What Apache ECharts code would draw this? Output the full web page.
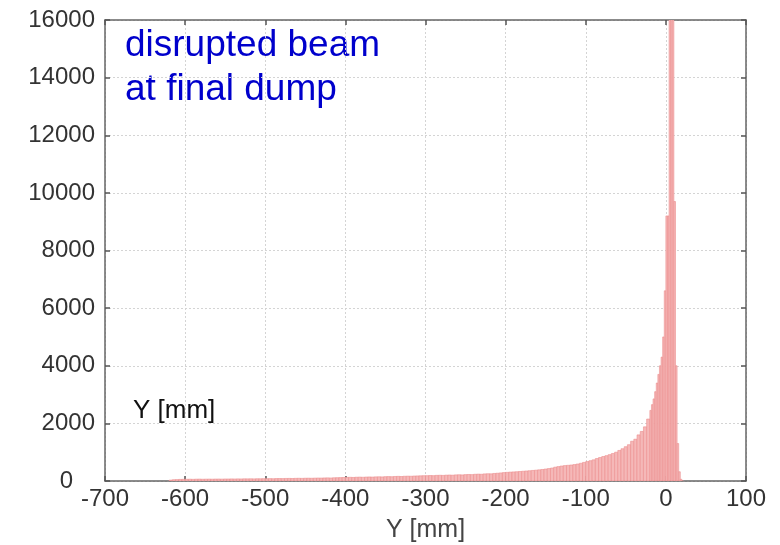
<!DOCTYPE html>
<html lang="en">
<head>
    <meta charset="UTF-8">
    <title>disrupted beam at final dump</title>
    <script src="https://cdn.jsdelivr.net/npm/echarts@6/dist/echarts.min.js"></script>
    <style>
        body { margin: 0; background: #fff; }
    </style>
</head>
<body>
    <div id="main" style="width: 780px;height:545px;"></div>
    <script type="text/javascript">
        // histogram of Y [mm], tail bins 4 mm wide, core bins 2 mm wide
        var tailStart = -620;
        var tailWidth = 4;
        var tailCounts = [
            30, 45, 50, 55, 58,
            60, 62, 58, 63, 65, 61, 64, 66, 63, 67, 68, 65, 70, 69, 72, 70, 73, 71, 75, 74, 76, 73, 78, 77, 80,
            80, 83, 79, 85, 86, 84, 88, 90, 87, 92, 94, 91, 96, 98, 95, 100, 103, 101, 106, 108, 105, 112, 115, 118, 122,
            125, 128, 124, 131, 134, 130, 137, 140, 136, 143, 146, 142, 150, 153, 149, 157, 160, 156, 164, 168, 165, 172, 176, 180, 184,
            185, 190, 186, 195, 198, 194, 203, 207, 202, 212, 216, 211, 221, 226, 222, 233, 238, 234, 246, 252, 249, 262, 270, 280, 292,
            300, 308, 315, 322, 330, 338, 348, 356, 366, 376, 388, 400, 415, 432, 450,
            480, 500, 520, 535, 545, 555, 570, 590, 615, 645,
            675, 705, 735, 780, 815, 850, 880, 915, 955, 1000,
            1060, 1120, 1190, 1260, 1380, 1450, 1600, 1720, 1880, 2150
        ];
        var coreStart = -20;
        var coreWidth = 2;
        var coreCounts = [
            2450, 2650, 2850, 3100, 3400, 3700, 4000, 4300, 5000, 6600,
            9200, 9200, 17500, 17500, 17500, 9700, 4000, 1300, 320, 60, 0
        ];
        var xMin = -700, xMax = 100, xStep = 100;
        var yMin = 0, yMax = 16000, yStep = 2000;

        var bins = [];
        function addBins(start, width, counts) {
            for (var i = 0; i < counts.length; i++) {
                bins.push([start + i * width, start + (i + 1) * width, counts[i]]);
            }
        }
        addBins(tailStart, tailWidth, tailCounts);
        addBins(coreStart, coreWidth, coreCounts);

        var font = 'Liberation Sans, Arial, Helvetica, sans-serif';
        var myChart = echarts.init(document.getElementById('main'));

        function renderBar(params, api) {
            var p0 = api.coord([api.value(0), 0]);
            var p1 = api.coord([api.value(1), api.value(2)]);
            return {
                type: 'rect',
                shape: { x: p0[0], y: p1[1], width: p1[0] - p0[0], height: p0[1] - p1[1] },
                style: { fill: '#f5b8b8', stroke: '#ec8f8f', lineWidth: 0.6 }
            };
        }

        // top and right axes only draw the frame and inward ticks
        var frameLine = { show: true, onZero: false, lineStyle: { color: '#666', width: 1.5 } };
        var frameTick = { show: true, inside: true, length: 5, lineStyle: { color: '#555', width: 1.5 } };
        var gridLine = { show: true, lineStyle: { color: '#d4d4d4', type: [2, 2], width: 1 } };

        var option = {
            animation: false,
            backgroundColor: '#fff',
            grid: { left: 105, right: 34, top: 20, bottom: 64, containLabel: false, outerBoundsMode: 'none' },
            xAxis: [
                {
                    type: 'value', min: xMin, max: xMax, interval: xStep,
                    name: 'Y [mm]', nameLocation: 'middle', nameGap: 37,
                    nameTextStyle: { fontFamily: font, fontSize: 25, color: '#444' },
                    axisLine: frameLine,
                    axisTick: frameTick,
                    axisLabel: { fontFamily: font, fontSize: 24, color: '#333', margin: 6 },
                    splitLine: gridLine
                },
                {
                    type: 'value', position: 'top', min: xMin, max: xMax, interval: xStep,
                    axisLine: frameLine, axisTick: frameTick,
                    axisLabel: { show: false }, splitLine: { show: false }
                }
            ],
            yAxis: [
                {
                    type: 'value', min: yMin, max: yMax, interval: yStep,
                    axisLine: frameLine,
                    axisTick: frameTick,
                    axisLabel: {
                        fontFamily: font, fontSize: 24, color: '#333', margin: 10,
                        formatter: function (v) { return v === 0 ? '{z|0}' : String(v); },
                        rich: { z: { fontFamily: font, fontSize: 24, color: '#333', padding: [0, 22, 0, 0] } }
                    },
                    splitLine: gridLine
                },
                {
                    type: 'value', position: 'right', min: yMin, max: yMax, interval: yStep,
                    axisLine: frameLine, axisTick: frameTick,
                    axisLabel: { show: false }, splitLine: { show: false }
                }
            ],
            graphic: [
                {
                    type: 'text', left: 125, top: 24,
                    style: { text: 'disrupted beam\nat final dump', font: '37px ' + font, fill: '#0000cc', lineHeight: 44 }
                },
                {
                    type: 'text', left: 133, top: 398,
                    style: { text: 'Y [mm]', font: '26px ' + font, fill: '#111' }
                }
            ],
            series: [
                {
                    type: 'custom',
                    renderItem: renderBar,
                    clip: true,
                    xAxisIndex: 0,
                    yAxisIndex: 0,
                    encode: { x: [0, 1], y: 2 },
                    data: bins
                }
            ]
        };

        myChart.setOption(option);
    </script>
</body>
</html>
